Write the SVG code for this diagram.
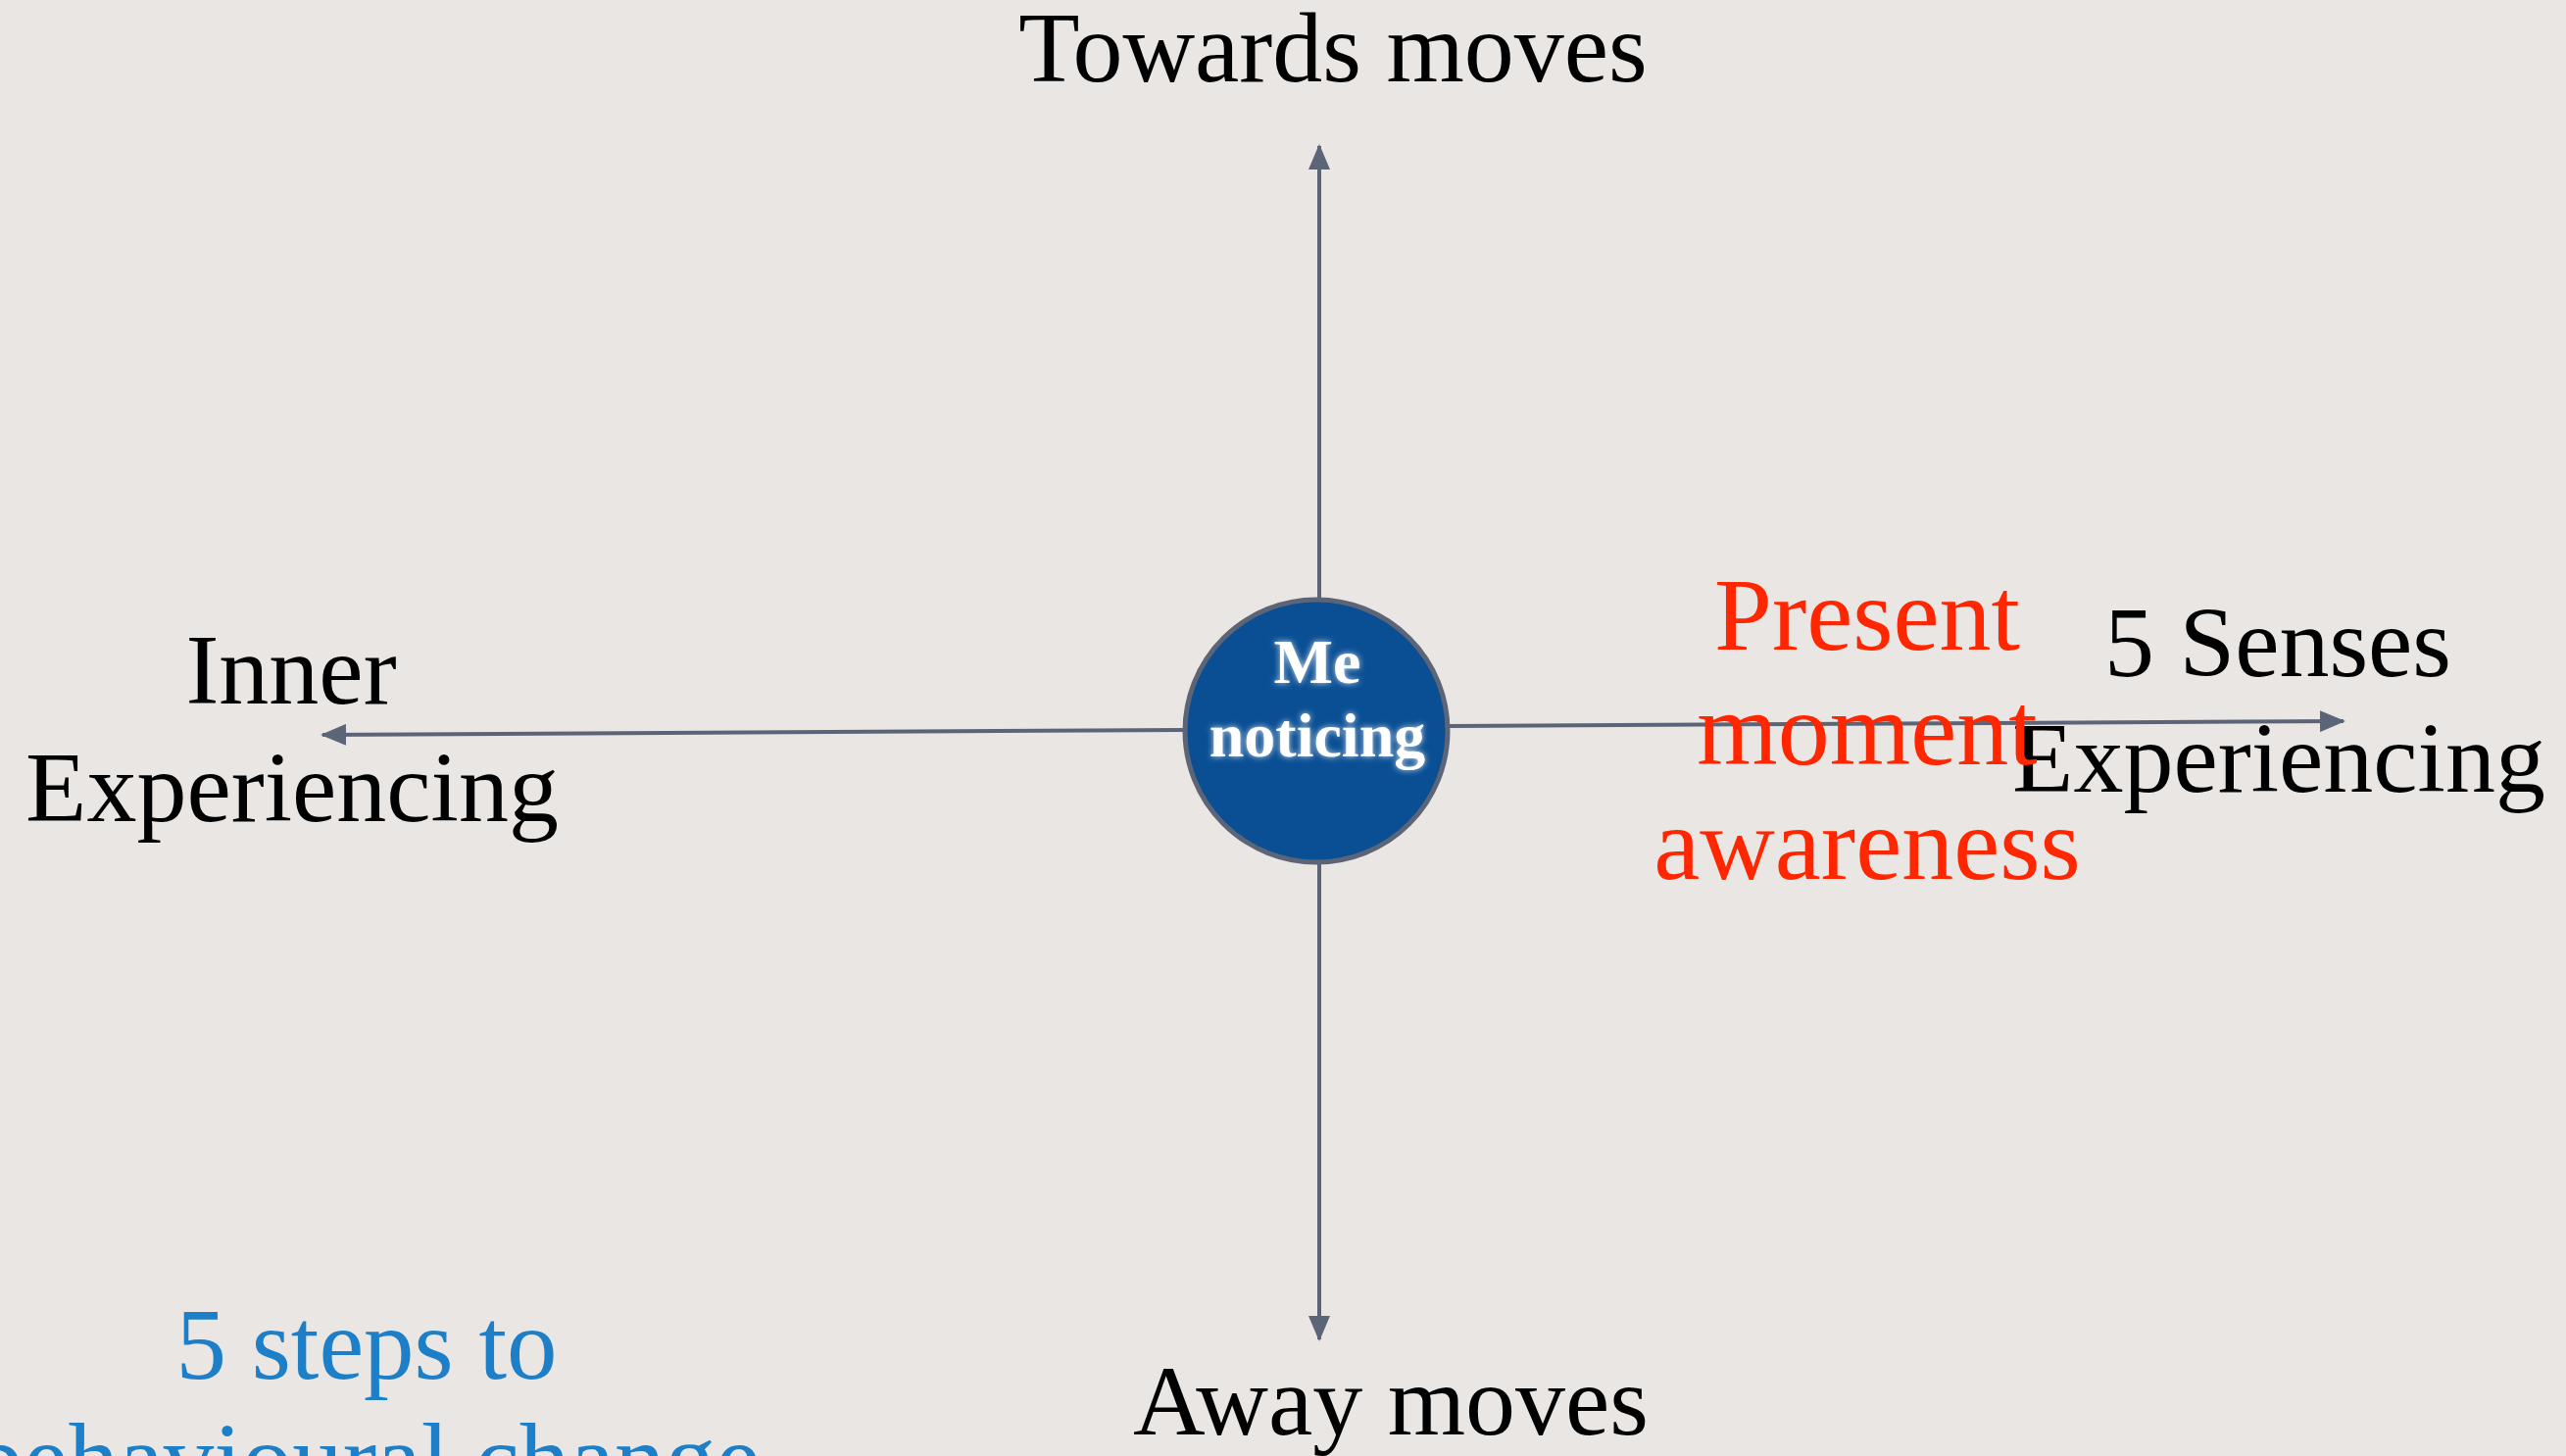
<svg xmlns="http://www.w3.org/2000/svg" width="2618" height="1486" viewBox="0 0 2618 1486">
<style>
.lbl{font-family:"Liberation Serif","Times New Roman",serif;font-size:102px;fill:#000;text-anchor:middle}
.red{font-family:"Liberation Serif","Times New Roman",serif;font-size:106px;fill:#ff2600;text-anchor:middle}
.blue{font-family:"Liberation Serif","Times New Roman",serif;font-size:103px;fill:#1c7fc8;text-anchor:middle}
.me{font-family:"Liberation Serif","Times New Roman",serif;font-size:64px;font-weight:bold;fill:#fff;text-anchor:middle}
.conn{stroke:#5b6577;stroke-width:4;fill:none}
</style>
<defs>
<marker id="arr" markerUnits="userSpaceOnUse" markerWidth="26" markerHeight="22" refX="24" refY="11" orient="auto">
<path d="M0,0 L26,11 L0,22 z" fill="#5b6577"/>
</marker>
<filter id="glow" x="-20%" y="-40%" width="140%" height="180%">
<feGaussianBlur in="SourceAlpha" stdDeviation="3" result="b"/>
<feFlood flood-color="#ffffff" flood-opacity="0.8"/>
<feComposite in2="b" operator="in" result="g"/>
<feMerge><feMergeNode in="g"/><feMergeNode in="SourceGraphic"/></feMerge>
</filter>
</defs>
<rect x="0" y="0" width="2618" height="1486" fill="#e9e6e3"/>
<g id="connectors">
<path class="conn" d="M1346,611 L1346,149" marker-end="url(#arr)"/>
<path class="conn" d="M1346,881 L1346,1367" marker-end="url(#arr)"/>
<path class="conn" d="M1208,745 L329,750" marker-end="url(#arr)"/>
<path class="conn" d="M1479,741 L2391,736" marker-end="url(#arr)"/>
</g>
<g id="towards">
<text class="lbl" x="1360" y="83">Towards moves</text>
</g>
<g id="away">
<text class="lbl" x="1419" y="1464">Away moves</text>
</g>
<g id="inner">
<text class="lbl" x="297" y="718">Inner</text>
<text class="lbl" x="298" y="838">Experiencing</text>
</g>
<g id="senses">
<text class="lbl" x="2324" y="690">5 Senses</text>
<text class="lbl" x="2325" y="808">Experiencing</text>
</g>
<g id="present">
<text class="red" x="1905" y="663">Present</text>
<text class="red" x="1905" y="780">moment</text>
<text class="red" x="1905" y="897">awareness</text>
</g>
<g id="me-noticing">
<circle cx="1343" cy="746" r="134" fill="#0a4f94" stroke="#5b6577" stroke-width="5"/>
<text class="me" x="1344" y="697" filter="url(#glow)">Me</text>
<text class="me" x="1344" y="772" filter="url(#glow)">noticing</text>
</g>
<g id="steps">
<text class="blue" x="374" y="1407">5 steps to</text>
<text class="blue" x="374" y="1524">behavioural change</text>
</g>
</svg>
